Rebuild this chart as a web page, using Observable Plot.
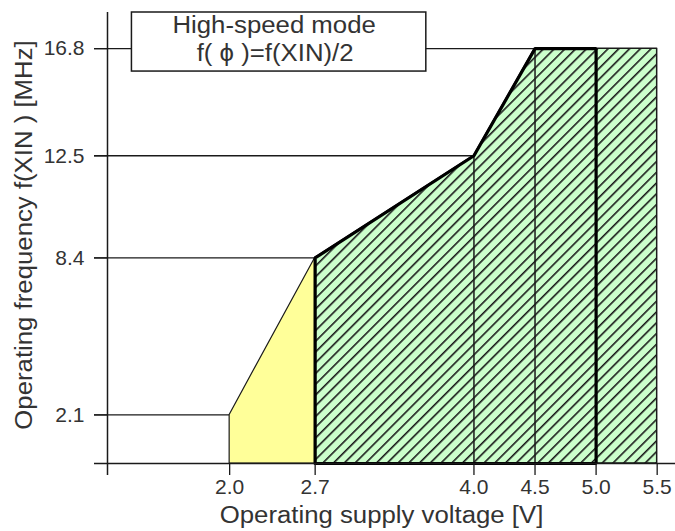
<!DOCTYPE html>
<html><head><meta charset="utf-8">
<script src="https://cdn.jsdelivr.net/npm/d3@7"></script>
<script src="https://cdn.jsdelivr.net/npm/@observablehq/plot@0.6"></script>
<style>body{margin:0;background:#fff} svg{display:block}</style>
</head><body><div id="chart"></div>
<script>
// ---- data ----
const xTicks = [2.0, 2.7, 4.0, 4.5, 5.0, 5.5];
const yTicks = [2.1, 8.4, 12.5, 16.8];
const yellowVoltage = [2.0, 2.7];
const yellowFreq = [2.1, 8.4];
const greenVoltage = [2.7, 4.0, 4.5, 5.0, 5.5];
const greenFreq = [8.4, 12.5, 16.8, 16.8, 16.8];
const boundaryVoltage = [2.7, 4.0, 4.5, 5.0];
const boundaryFreq = [8.4, 12.5, 16.8, 16.8];
const dividerVoltage = [4.0, 4.5];
const dividerFreq = [12.5, 16.8];
const refEndVoltage = [2.0, 2.7, 4.0, 4.5];
const xDomain = [1.0, 5.65];
const yDomain = [0.15, 18.25];
const boxVoltage = [1.2, 3.61];
const boxFreq = [15.88, 18.25];
const boxLine1 = "High-speed mode";
const boxLine2 = "f( \u03D5 )=f(XIN)/2";
const xLabel = "Operating supply voltage [V]";
const yLabel = "Operating frequency f(XIN ) [MHz]";

// ---- layout ----
const W = 675, H = 531;
const mL = 107, mR = 0, mT = 12, mB = 68;
const tickLen = 13;
const pxPerV = (W - mL - mR) / (xDomain[1] - xDomain[0]);
const pxPerF = (H - mT - mB) / (yDomain[1] - yDomain[0]);
const floor = yDomain[0];
const xStart = xDomain[0] - tickLen / pxPerV;
const yStart = floor - 12 / pxPerF;
const ink = "#1a1a1a";
const textInk = "#333";
const font = "'Liberation Sans', Arial, Helvetica, sans-serif";
const labelSize = 23;
const stretch = 1.12;

const yellowData = yellowVoltage.map((v, i) => ({v, f: yellowFreq[i]}));
const greenData = greenVoltage.map((v, i) => ({v, f: greenFreq[i]}));
const boundary = [{v: boundaryVoltage[0], f: floor}]
  .concat(boundaryVoltage.map((v, i) => ({v, f: boundaryFreq[i]})))
  .concat([{v: boundaryVoltage[boundaryVoltage.length - 1], f: floor}, {v: boundaryVoltage[0], f: floor}]);
const refs = yTicks.map((f, i) => ({f, v: refEndVoltage[i]}));
const dividers = dividerVoltage.map((v, i) => ({v, f: dividerFreq[i]}));
const boxCx = (boxVoltage[0] + boxVoltage[1]) / 2;

const hatchDefs = () => {
  const ns = "http://www.w3.org/2000/svg";
  const defs = document.createElementNS(ns, "defs");
  defs.innerHTML = `<pattern id="hatch" patternUnits="userSpaceOnUse" width="7.6" height="7.6" patternTransform="rotate(45)">
    <rect width="7.6" height="7.6" fill="#ccffcc"></rect>
    <line x1="0.8" y1="0" x2="0.8" y2="7.6" stroke="#1a1a1a" stroke-width="1.6"></line>
  </pattern>`;
  return defs;
};

const chart = Plot.plot({
  width: W, height: H,
  marginLeft: mL, marginRight: mR, marginTop: mT, marginBottom: mB,
  style: {fontFamily: font, background: "#fff", color: textInk, overflow: "visible"},
  x: {domain: xDomain},
  y: {domain: yDomain},
  marks: [
    hatchDefs,
    Plot.ruleY(refs, {y: "f", x1: xStart, x2: "v", stroke: ink, strokeWidth: 1.3}),
    Plot.areaY(yellowData, {x: "v", y1: floor, y2: "f", fill: "#ffff99", stroke: ink, strokeWidth: 1.2}),
    Plot.areaY(greenData, {x: "v", y1: floor, y2: "f", fill: "url(#hatch)", stroke: ink, strokeWidth: 1.5}),
    Plot.ruleX(dividers, {x: "v", y1: floor, y2: "f", stroke: ink, strokeWidth: 1.5}),
    Plot.line(boundary, {x: "v", y: "f", stroke: "#000", strokeWidth: 3.2, strokeLinejoin: "miter"}),
    Plot.ruleY([floor], {x1: xStart, x2: xDomain[1], stroke: ink, strokeWidth: 1.5}),
    Plot.ruleX([xDomain[0]], {y1: yStart, y2: yDomain[1], stroke: ink, strokeWidth: 1.5}),
    Plot.axisX(xTicks, {tickSize: 12, tickPadding: 4, tickFormat: d => d.toFixed(1), fontSize: 21, stroke: ink, strokeWidth: 1.3, label: null, fill: textInk}),
    Plot.axisY(yTicks, {tickSize: tickLen, tickPadding: 10, tickFormat: d => d.toFixed(1), fontSize: 21, stroke: ink, strokeWidth: 1.3, label: null, fill: textInk}),
    Plot.text([xLabel], {frameAnchor: "bottom", textAnchor: "middle", dx: -10, dy: 52.6, fontSize: labelSize, fill: textInk, lineAnchor: "middle"}),
    Plot.text([yLabel], {frameAnchor: "left", textAnchor: "middle", rotate: -90, dx: -82.4, dy: -3, fontSize: labelSize, fill: textInk, lineAnchor: "middle"}),
    Plot.rect([0], {x1: boxVoltage[0], x2: boxVoltage[1], y1: boxFreq[0], y2: boxFreq[1], fill: "#fff", stroke: ink, strokeWidth: 1.5}),
    Plot.text([boxLine1], {x: boxCx, y: boxFreq[1], textAnchor: "middle", lineAnchor: "middle", dx: -5, dy: 13.4, fontSize: labelSize, fill: textInk}),
    Plot.text([boxLine2], {x: boxCx, y: boxFreq[1], textAnchor: "middle", lineAnchor: "middle", dx: -4, dy: 41.2, fontSize: labelSize, fill: textInk})
  ]
});
document.getElementById("chart").appendChild(chart);
// widen the label glyphs horizontally, like the reference's typeface
chart.querySelectorAll('g[aria-label="text"] text').forEach(t => {
  const len = t.getComputedTextLength();
  t.setAttribute("textLength", (len * stretch).toFixed(1));
  t.setAttribute("lengthAdjust", "spacingAndGlyphs");
});
</script>
</body></html>
